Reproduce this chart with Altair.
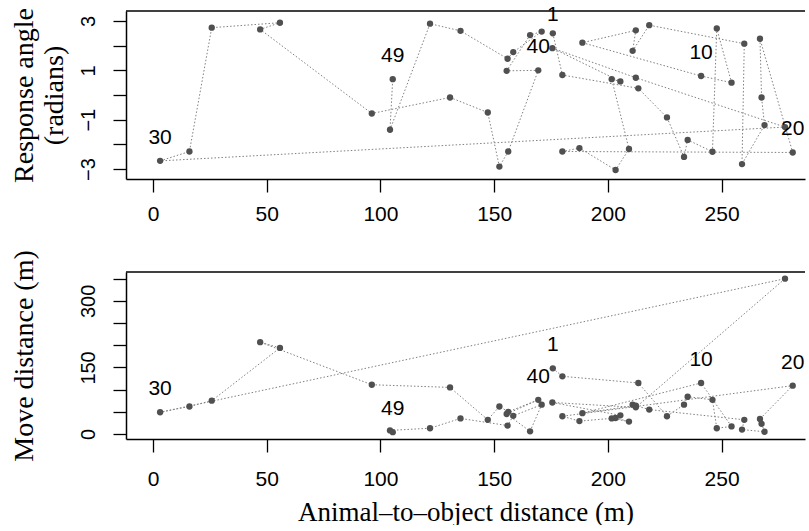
import altair as alt
import pandas as pd

# ---- data (sequence order 1..49) ----
seq = list(range(1, 50))
dist = [175.8, 180.0, 213.4, 226.0, 233.5, 235.1, 246.0, 247.9, 254.4, 241.0,
        188.8, 212.3, 210.9, 218.2, 260.0, 259.0, 268.9, 267.6, 266.9, 281.3,
        180.0, 187.5, 203.4, 209.3, 201.7, 205.5, 175.6, 212.3, 277.9, 3.1,
        16.0, 25.8, 55.8, 47.1, 96.2, 130.6, 147.2, 152.3, 156.2, 169.4,
        155.5, 165.8, 170.9, 158.4, 155.9, 135.2, 121.8, 104.2, 105.4]
angle = [2.50, 0.81, 0.27, -0.91, -2.51, -1.82, -2.30, 2.70, 0.50, 0.77,
         2.12, 2.62, 1.79, 2.83, 2.08, -2.80, -1.22, -0.10, 2.28, -2.33,
         -2.29, -2.15, -3.04, -2.19, 0.64, 0.55, 1.90, 0.70, -1.30, -2.67,
         -2.29, 2.73, 2.93, 2.66, -0.75, -0.10, -0.71, -2.90, -2.29, 1.00,
         0.98, 2.43, 2.57, 1.74, 1.47, 2.60, 2.89, -1.41, 0.64]
move = [148, 130, 115, 40, 66, 84, 77, 13, 17, 115,
        47, 64, 66, 55, 32, 10, 5, 23, 34, 109,
        40, 29, 36, 28, 35, 42, 71, 60, 350, 49,
        62, 75, 194, 207, 111, 105, 32, 62, 50, 77,
        45, 6, 66, 41, 19, 35, 13, 8, 4]
labelled = [1, 10, 20, 30, 40, 49]
x_ticks = [0, 50, 100, 150, 200, 250]
angle_ticks = [-3, -2, -1, 0, 1, 2, 3]
move_ticks = [0, 50, 100, 150, 200, 250, 300, 350]

df = pd.DataFrame({"seq": seq, "dist": dist, "angle": angle, "move": move})
df["label"] = [str(s) if s in labelled else "" for s in seq]

X_DOMAIN = [-11.9, 286.7]
W = 679
SANS = "Liberation Sans"
SERIF = "Liberation Serif"


def panel(field, domain, ticks, label_expr, ytitle, xtitle, height, xlabpad, first_dy):
    xenc = alt.X(
        "dist:Q",
        scale=alt.Scale(domain=X_DOMAIN, nice=False, zero=False),
        axis=alt.Axis(values=x_ticks, title=xtitle, grid=False, domain=True,
                      domainColor="black", domainWidth=1.5,
                      tickSize=13, tickColor="black", tickWidth=1.3,
                      labelFont=SANS, labelFontSize=21, labelColor="black",
                      labelPadding=xlabpad, labelFlush=False,
                      titleFont=SERIF, titleFontSize=27, titleFontWeight="normal",
                      titleColor="black", titlePadding=10),
    )
    yenc = alt.Y(
        f"{field}:Q",
        scale=alt.Scale(domain=domain, nice=False, zero=False),
        axis=alt.Axis(values=ticks, labelExpr=label_expr, title=ytitle,
                      grid=False, domain=True, domainColor="black", domainWidth=1.5,
                      tickSize=13, tickColor="black", tickWidth=1.3,
                      labelFont=SANS, labelFontSize=20, labelColor="black",
                      labelAngle=270, labelAlign="center", labelBaseline="alphabetic",
                      labelPadding=19, labelOverlap=False, labelFlush=False,
                      titleFont=SERIF, titleFontSize=28, titleFontWeight="normal",
                      titleColor="black", titleLineHeight=30, titlePadding=10),
    )
    base = alt.Chart(df).encode(x=xenc, y=yenc)
    lines = base.mark_line(color="#808080", strokeWidth=1, strokeDash=[1.5, 2]).encode(
        order="seq:Q")
    pts = base.mark_circle(size=40, color="#505050", opacity=1)
    txt = base.transform_filter("datum.label != '' && datum.seq != 1").mark_text(
        font=SANS, fontSize=21, color="black", dy=-23, baseline="middle"
    ).encode(text="label:N")
    txt1 = base.transform_filter("datum.seq == 1").mark_text(
        font=SANS, fontSize=21, color="black", dy=first_dy, baseline="middle"
    ).encode(text="label:N")
    top_edge = alt.Chart(pd.DataFrame({"edge": [0]})).mark_rule(
        color="black", strokeWidth=1.5).encode(
        x=alt.value(0), x2=alt.value(W), y=alt.value(0))
    return alt.layer(lines, pts, txt, txt1, top_edge).properties(width=W, height=height)


top = panel("angle", [-3.405, 3.405], angle_ticks,
            "datum.value % 2 === 0 ? '' : datum.label",
            ["Response angle", "(radians)"], None, 168, 11, -18)
bottom = panel("move", [-11.3, 365.1], move_ticks,
               "datum.value % 150 === 0 ? datum.label : ''",
               ["Move distance (m)", " "], "Animal\u2013to\u2013object distance (m)", 167,
               16, -23)

chart = alt.vconcat(top, bottom, spacing=25).properties(
    padding={"left": 10, "top": 4, "right": 0, "bottom": 0},
    background="white",
).configure_view(strokeWidth=0)

chart.save("out.html", embed_options={"renderer": "svg", "actions": False})
